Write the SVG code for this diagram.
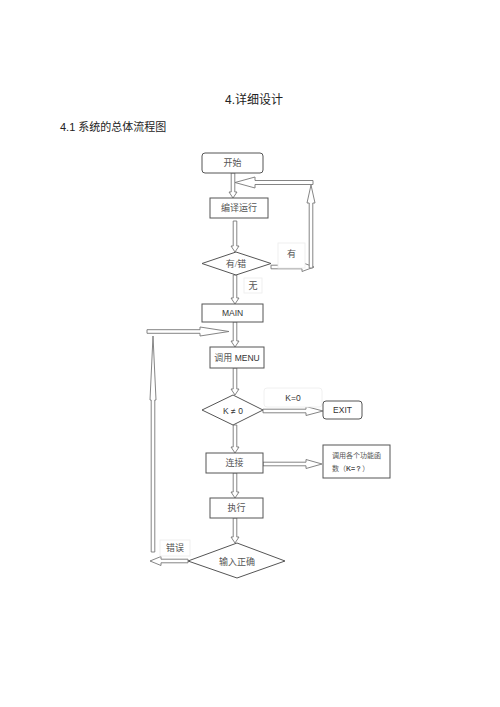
<svg xmlns="http://www.w3.org/2000/svg" width="500" height="707" viewBox="0 0 500 707">
<style>
.bg{fill:#fff}
.box{fill:#fff;stroke:#555;stroke-width:1}
.arr{fill:#fff;stroke:#777;stroke-width:0.9;stroke-linejoin:miter}
.lab{fill:#fff;stroke:#ececec;stroke-width:0.8}
.zh{font-family:"Liberation Serif","Noto Sans CJK SC",serif;font-size:9px;fill:#555;text-anchor:middle}
.zs{font-family:"Liberation Serif","Noto Sans CJK SC",serif;font-size:7px;fill:#555;text-anchor:start}
.en{font-family:"Liberation Sans","Noto Sans CJK SC",sans-serif;font-size:8.5px;fill:#333;text-anchor:middle}
.h{font-family:"Liberation Sans","Noto Sans CJK SC",sans-serif;fill:#222}
</style>
<rect class="bg" x="0" y="0" width="500" height="707"/>
<g id="headings">
<text class="h" x="254" y="104" font-size="12" text-anchor="middle">4.详细设计</text>
<text class="h" x="60" y="131" font-size="11">4.1 系统的总体流程图</text>
</g>
<g id="connectors">
<polygon class="arr" points="231.2,173 234.8,173 234.8,192 237,192 233,198 229,192 231.2,192"/>
<polygon class="arr" points="233.2,221 236.8,221 236.8,246 239,246 235,252 231,246 233.2,246"/>
<polygon class="arr" points="233.2,275 236.8,275 236.8,298 239,298 235,304 231,298 233.2,298"/>
<polygon class="arr" points="233.2,322 236.8,322 236.8,341 239,341 235,347 231,341 233.2,341"/>
<polygon class="arr" points="233.2,368 236.8,368 236.8,389 239,389 235,395 231,389 233.2,389"/>
<polygon class="arr" points="233.2,425 236.8,425 236.8,447 239,447 235,453 231,447 233.2,447"/>
<polygon class="arr" points="233.2,473 236.8,473 236.8,492 239,492 235,498 231,492 233.2,492"/>
<polygon class="arr" points="233.2,518 236.8,518 236.8,537 239,537 235,543 231,537 233.2,537"/>
<polygon class="arr" points="271,265.2 302,265.2 302,262.5 314,267 302,271.5 302,268.8 271,268.8"/>
<polygon class="arr" points="263,409.2 306,409.2 306,406.5 323,411 306,415.5 306,412.8 263,412.8"/>
<polygon class="arr" points="263,462.2 306,462.2 306,459.5 322,464 306,468.5 306,465.8 263,465.8"/>
<polygon class="arr" points="188,559.2 161,559.2 161,556.5 150,561 161,565.5 161,562.8 188,562.8"/>
<polygon class="arr" points="313,180.5 255,180.5 255,177 235,182.5 255,188 255,184.5 313,184.5"/>
<polygon class="arr" points="309.2,268 309.2,203 307,203 311,185 315,203 312.8,203 312.8,268"/>
<polygon class="arr" points="147,329.7 200,329.7 200,327 229,331.5 200,336 200,333.3 147,333.3"/>
<polygon class="arr" points="151.2,552 151.2,400 150,400 153,336 156,400 154.8,400 154.8,552"/>
</g>
<g id="label-you">
<rect class="lab" x="278" y="243" width="27" height="25"/>
<text class="zh" x="291.5" y="257">有</text>
</g>
<g id="label-wu">
<rect class="lab" x="244" y="278" width="18" height="15"/>
<text class="zh" x="253" y="288.5">无</text>
</g>
<g id="label-k0">
<rect class="lab" x="264" y="388" width="58" height="19" rx="3"/>
<text class="en" x="293" y="401">K=0</text>
</g>
<g id="label-cuowu">
<rect class="lab" x="160" y="540" width="30" height="16"/>
<text class="zh" x="175" y="551">错误</text>
</g>
<g id="start">
<rect class="box" x="202" y="153" width="61" height="20" rx="3"/>
<text class="zh" x="232.5" y="166">开始</text>
</g>
<g id="compile">
<rect class="box" x="210" y="198" width="58" height="20"/>
<text class="zh" x="239" y="211">编译运行</text>
</g>
<g id="decision-error">
<polygon class="box" points="236,252 271,263.5 236,275 202,263.5"/>
<text class="zh" x="236" y="266.5">有/错</text>
</g>
<g id="main">
<rect class="box" x="202" y="304" width="61" height="18"/>
<text class="en" x="232.5" y="316">MAIN</text>
</g>
<g id="menu">
<rect class="box" x="210" y="347" width="54" height="21"/>
<text class="zh" x="237" y="360.5"><tspan>调用</tspan><tspan style="font-family:'Liberation Sans',sans-serif;font-size:8.5px;fill:#333"> MENU</tspan></text>
</g>
<g id="decision-k">
<polygon class="box" points="233,395 263,410 233,425 202,410"/>
<text class="en" x="233" y="413.5">K ≠ 0</text>
</g>
<g id="exit">
<rect class="box" x="323" y="401" width="39" height="18" rx="3"/>
<text class="en" x="342.5" y="413">EXIT</text>
</g>
<g id="connect">
<rect class="box" x="206" y="453" width="57" height="20"/>
<text class="zh" x="234.5" y="466">连接</text>
</g>
<g id="functions">
<rect class="box" x="323" y="445" width="67" height="33"/>
<text class="zs" x="332" y="458">调用各个功能函</text>
<text class="zs" x="332" y="471">数（<tspan style="font-family:'Liberation Sans',sans-serif;font-weight:bold">K=？</tspan>）</text>
</g>
<g id="execute">
<rect class="box" x="210" y="498" width="53" height="20"/>
<text class="zh" x="236.5" y="511">执行</text>
</g>
<g id="decision-input">
<polygon class="box" points="237,543 285,561 237,578 188,561"/>
<text class="zh" x="237" y="564.5">输入正确</text>
</g>
</svg>
